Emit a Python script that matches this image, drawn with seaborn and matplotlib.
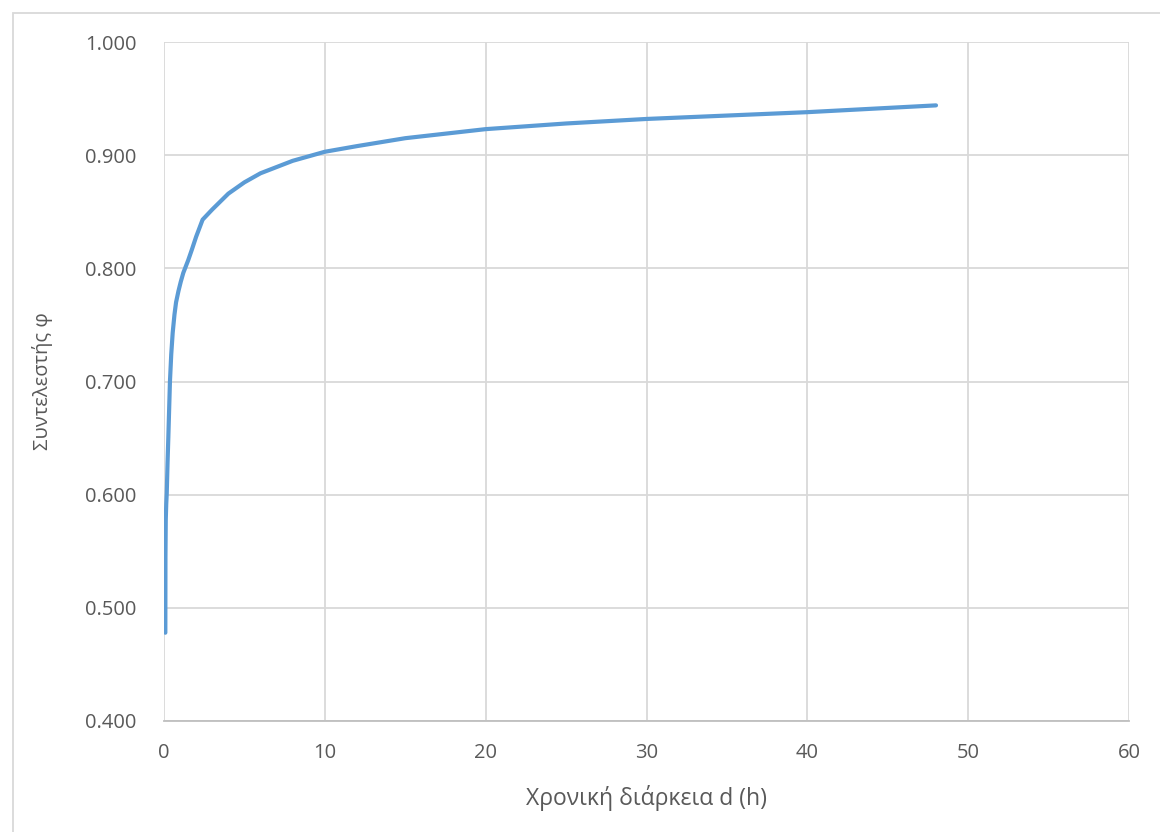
import matplotlib
matplotlib.use("Agg")
import matplotlib.pyplot as plt
from matplotlib.patches import Rectangle
import pandas as pd
import seaborn as sns

# Duration d (hours) and coefficient φ
duration_h = [0.083, 0.09, 0.11, 0.14, 0.17, 0.22, 0.27, 0.37, 0.45, 0.54,
              0.65, 0.75, 0.9, 1.04, 1.2, 1.5, 1.72, 2.0, 2.4, 3.0, 4.0, 5.0,
              6.0, 8.0, 10.0, 12.0, 15.0, 20.0, 25.0, 30.0, 35.0, 40.0, 48.0]
phi = [0.478, 0.545, 0.578, 0.592, 0.601, 0.628, 0.651, 0.700, 0.724, 0.743,
       0.759, 0.770, 0.780, 0.788, 0.796, 0.807, 0.816, 0.828, 0.843, 0.852,
       0.866, 0.876, 0.884, 0.895, 0.903, 0.908, 0.915, 0.923, 0.928, 0.932,
       0.935, 0.938, 0.944]

x_ticks = [0, 10, 20, 30, 40, 50, 60]
y_ticks = [0.4, 0.5, 0.6, 0.7, 0.8, 0.9, 1.0]

df = pd.DataFrame({"d": duration_h, "phi": phi})

sns.set_theme(style="white")
plt.rcParams["font.family"] = ["Open Sans", "DejaVu Sans"]

fig = plt.figure(figsize=(11.6, 8.32), dpi=100)
ax = fig.add_axes([164 / 1160, 1 - 721 / 832, 965 / 1160, 679 / 832])

grid_c = "#D9D9D9"
text_c = "#595959"

sns.lineplot(data=df, x="d", y="phi", ax=ax, color="#5B9BD5", linewidth=3.0,
             solid_capstyle="round", solid_joinstyle="round", zorder=3)

ax.set_xlim(0, 60)
ax.set_ylim(0.4, 1.0)
ax.set_xticks(x_ticks)
ax.set_yticks(y_ticks)
ax.set_yticklabels([f"{v:.3f}" for v in y_ticks])
ax.grid(True, color=grid_c, linewidth=1.3)
ax.set_axisbelow(True)
for side in ["top", "right", "left"]:
    ax.spines[side].set_visible(False)
ax.spines["bottom"].set_color("#BFBFBF")
ax.spines["bottom"].set_linewidth(1.3)
ax.tick_params(axis="both", length=0, labelsize=14.5, colors=text_c)
ax.tick_params(axis="x", pad=16)
ax.tick_params(axis="y", pad=20)

ax.set_xlabel("Χρονική διάρκεια d (h)", fontsize=16.5, color=text_c, labelpad=16)
ax.set_ylabel("Συντελεστής φ", fontsize=14.5, color=text_c, labelpad=23)

# chart frame
fig.patches.append(Rectangle((13 / 1160, -0.1), 1.2, (832 - 12.5) / 832 + 0.1,
                             transform=fig.transFigure, fill=False,
                             edgecolor=grid_c, linewidth=1.3))

fig.savefig("out.png", dpi=100, facecolor="white")
